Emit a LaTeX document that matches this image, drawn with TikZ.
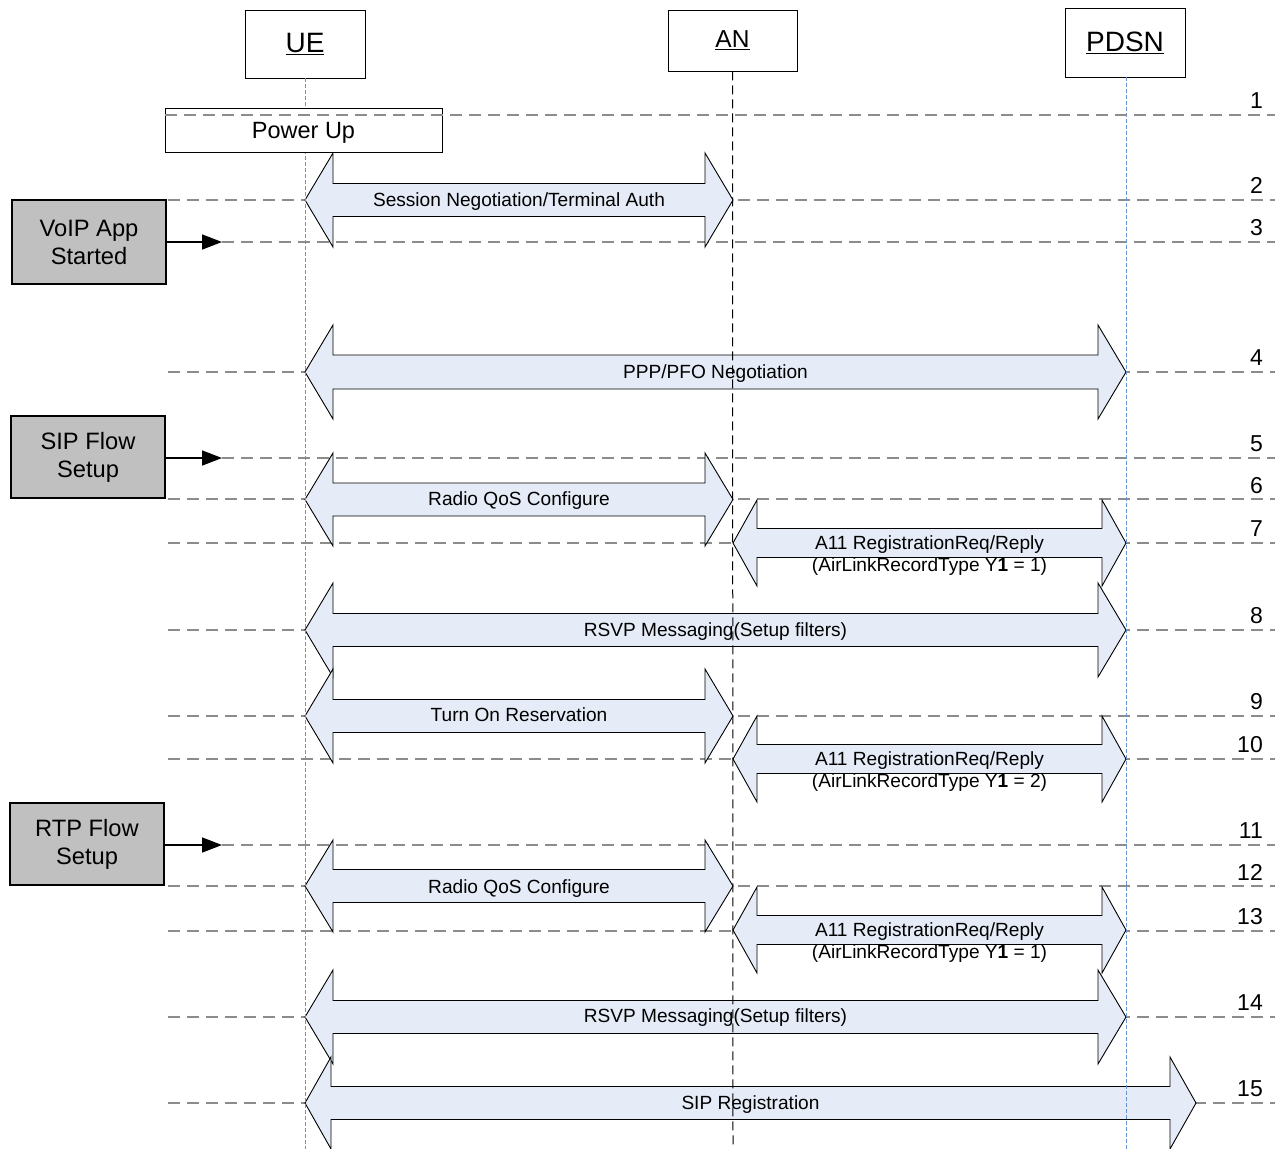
\documentclass[tikz,border=0pt]{standalone}
\usepackage{fontspec}
\setmainfont{Liberation Sans}
\usetikzlibrary{arrows.meta}
\definecolor{arrfill}{RGB}{229,236,247}
\definecolor{stepgray}{RGB}{140,140,140}
\definecolor{lifeblue}{RGB}{100,148,210}
\definecolor{boxgray}{RGB}{192,192,192}
\newcommand{\dblarrow}[6]{%
  \path[blockarrow] (#1,#3) -- ({#1+#6},{#3-#4}) -- ({#1+#6},{#3-#5}) -- ({#2-#6},{#3-#5}) -- ({#2-#6},{#3-#4}) -- (#2,#3) -- ({#2-#6},{#3+#4}) -- ({#2-#6},{#3+#5}) -- ({#1+#6},{#3+#5}) -- ({#1+#6},{#3+#4}) -- cycle;}
\tikzset{
  blockarrow/.style={draw=black, line width=0.9pt, fill=arrfill, line join=miter},
  stepline/.style={draw=stepgray, line width=1.8pt, dash pattern=on 12pt off 7pt},
  bluelife/.style={draw=lifeblue, line width=0.75pt, dash pattern=on 4pt off 2pt},
  blacklife/.style={draw=black, line width=1pt, dash pattern=on 9pt off 5pt},
  headbox/.style={draw=black, line width=0.9pt, fill=white, inner sep=0pt},
  eventbox/.style={draw=black, line width=1.2pt, fill=boxgray, inner sep=0pt, align=center,
    minimum width=154pt, font=\fontsize{23.7}{28}\selectfont},
  flowarrow/.style={draw=black, line width=1.6pt, -{Triangle[length=20pt,width=15pt]}},
  num/.style={anchor=base east, inner sep=0pt, font=\fontsize{23}{26}\selectfont},
  lbl/.style={anchor=base, inner sep=0pt, font=\fontsize{19.1}{22}\selectfont},
  lbltwo/.style={anchor=north, inner sep=0pt, align=center, font=\fontsize{19.1}{22}\selectfont}
}
\begin{document}
\begin{tikzpicture}[x=1pt,y=-1pt]
\useasboundingbox (0,0) rectangle (1275,1149);
\fill[white] (0,0) rectangle (1275,1149);

% step lines
\draw[stepline] (168,200) -- (1275,200);
\draw[stepline] (222,242) -- (1275,242);
\draw[stepline] (168,372) -- (1275,372);
\draw[stepline] (222,458) -- (1275,458);
\draw[stepline] (168,499) -- (1275,499);
\draw[stepline] (168,543) -- (1275,543);
\draw[stepline] (168,630) -- (1275,630);
\draw[stepline] (168,716) -- (1275,716);
\draw[stepline] (168,759) -- (1275,759);
\draw[stepline] (222,845) -- (1275,845);
\draw[stepline] (168,886) -- (1275,886);
\draw[stepline] (168,931) -- (1275,931);
\draw[stepline] (168,1017) -- (1275,1017);
\draw[stepline] (168,1103) -- (1275,1103);

% step numbers
\node[num] (n1) at (1263,108) {1};
\node[num] (n2) at (1263,193) {2};
\node[num] (n3) at (1263,235) {3};
\node[num] (n4) at (1263,365) {4};
\node[num] (n5) at (1263,451) {5};
\node[num] (n6) at (1263,493) {6};
\node[num] (n7) at (1263,536) {7};
\node[num] (n8) at (1263,623) {8};
\node[num] (n9) at (1263,709) {9};
\node[num] (n10) at (1263,752) {10};
\node[num] (n11) at (1263,838) {11};
\node[num] (n12) at (1263,880) {12};
\node[num] (n13) at (1263,924) {13};
\node[num] (n14) at (1263,1010) {14};
\node[num] (n15) at (1263,1096) {15};

% block arrows
\dblarrow{305}{733}{200}{47}{16.5}{28}
\dblarrow{305}{1126}{372}{47}{17}{28}
\dblarrow{305}{733}{499.5}{46.5}{16.5}{28}
\dblarrow{733}{1126}{543}{43}{14.5}{24}
\dblarrow{305}{1126}{630}{47}{16.5}{28}
\dblarrow{305}{733}{716}{47}{16.5}{28}
\dblarrow{733}{1126}{759}{43}{14.5}{24}
\dblarrow{305}{733}{886}{46}{16.5}{28}
\dblarrow{733}{1126}{930}{43}{14.5}{24}
\dblarrow{305}{1126}{1017}{47}{16.5}{28}
\dblarrow{305}{1196}{1103}{46}{16.5}{26}

% header boxes
\node[headbox, minimum width=120pt, minimum height=68pt, font=\fontsize{28}{30}\selectfont] (ue) at (305,44) {\underline{UE}};
\node[headbox, minimum width=129pt, minimum height=61pt, font=\fontsize{24.5}{27}\selectfont] (an) at (732.5,40.5) {\underline{AN}};
\node[headbox, minimum width=120pt, minimum height=69pt, font=\fontsize{28}{30}\selectfont] (pdsn) at (1125,42.5) {\underline{PDSN}};

% lifelines
\coordinate (ueend) at (305,1149);
\coordinate (anend) at (733,1149);
\coordinate (pdsnend) at (1126,1149);
\draw[bluelife] (ue.south) -- (ueend);
\draw[blacklife] (an.south) -- (anend);
\draw[bluelife] (pdsn.south -| pdsnend) -- (pdsnend);

% power up
\node[headbox, minimum width=277pt, minimum height=44pt, text depth=0pt, font=\fontsize{23.5}{26}\selectfont] (power) at (303.5,130) {Power Up};
\draw[stepline] (165,115) -- (1275,115);

% arrow labels
\node[lbl] (l2) at (519,206) {Session Negotiation/Terminal Auth};
\node[lbl] (l4) at (715.5,378) {PPP/PFO Negotiation};
\node[lbl] (l6) at (519,505.5) {Radio QoS Configure};
\node[lbltwo] (l7) at (929.5,535.5) {A11 RegistrationReq/Reply\\(AirLinkRecordType Y\textbf{1} = 1)};
\node[lbl] (l8) at (715.5,636) {RSVP Messaging(Setup filters)};
\node[lbl] (l9) at (519,721) {Turn On Reservation};
\node[lbltwo] (l10) at (929.5,751.5) {A11 RegistrationReq/Reply\\(AirLinkRecordType Y\textbf{1} = 2)};
\node[lbl] (l12) at (519,893) {Radio QoS Configure};
\node[lbltwo] (l13) at (929.5,922.5) {A11 RegistrationReq/Reply\\(AirLinkRecordType Y\textbf{1} = 1)};
\node[lbl] (l14) at (715.5,1022.5) {RSVP Messaging(Setup filters)};
\node[lbl] (l15) at (750.5,1109) {SIP Registration};

% event boxes
\node[eventbox, minimum height=84pt] (voip) at (89,242) {VoIP App\\Started};
\node[eventbox, minimum height=82pt] (sip) at (88,457) {SIP Flow\\Setup};
\node[eventbox, minimum height=82pt] (rtp) at (87,844) {RTP Flow\\Setup};
\coordinate (voipT) at (222,242);
\coordinate (sipT) at (222,458);
\coordinate (rtpT) at (222,845);
\draw[flowarrow] (voip.east |- voipT) -- (voipT);
\draw[flowarrow] (sip.east |- sipT) -- (sipT);
\draw[flowarrow] (rtp.east |- rtpT) -- (rtpT);
\end{tikzpicture}
\end{document}
